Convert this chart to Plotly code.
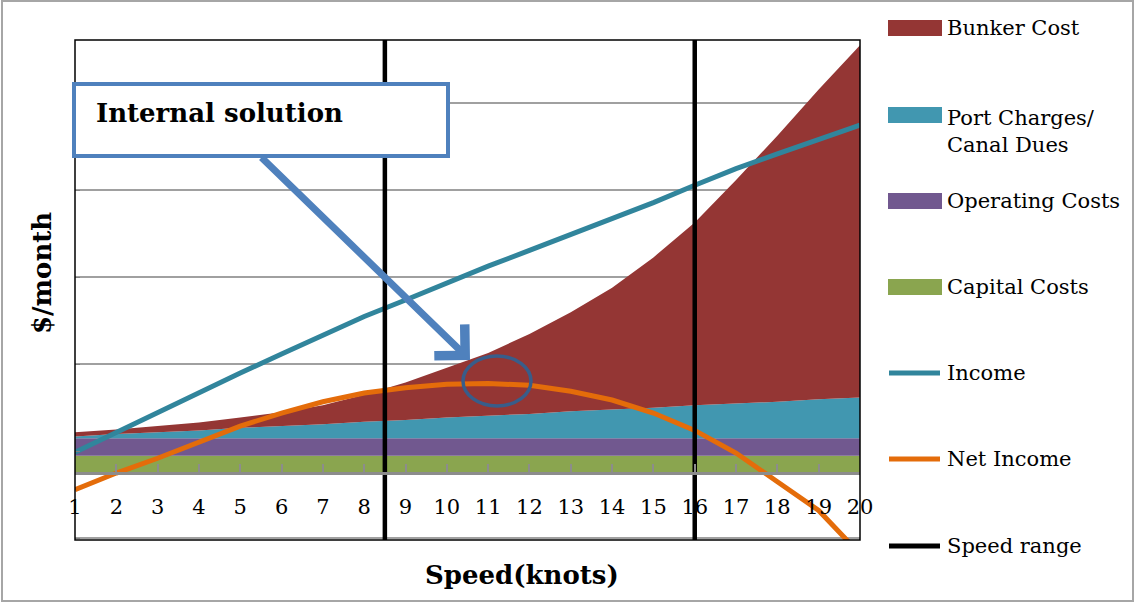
import plotly.graph_objects as go

# ---------------- data (arbitrary $/month units) ----------------
SPEEDS = [1, 2, 3, 4, 5, 6, 7, 8, 9, 10, 11, 12, 13, 14, 15, 16, 17, 18, 19, 20]
CAPITAL = [0.20, 0.20, 0.20, 0.20, 0.20, 0.20, 0.20, 0.20, 0.20, 0.20,
           0.20, 0.20, 0.20, 0.20, 0.20, 0.20, 0.20, 0.20, 0.20, 0.20]
OPERATING = [0.20, 0.20, 0.20, 0.20, 0.20, 0.20, 0.20, 0.20, 0.20, 0.20,
             0.20, 0.20, 0.20, 0.20, 0.20, 0.20, 0.20, 0.20, 0.20, 0.20]
PORT = [0.02, 0.05, 0.07, 0.09, 0.12, 0.14, 0.16, 0.19, 0.21, 0.24,
        0.26, 0.28, 0.31, 0.33, 0.35, 0.38, 0.40, 0.42, 0.45, 0.47]
BUNKER = [0.05, 0.05, 0.07, 0.09, 0.12, 0.16, 0.22, 0.31, 0.43, 0.57,
          0.72, 0.92, 1.14, 1.40, 1.73, 2.10, 2.57, 3.06, 3.56, 4.05]
INCOME = [0.24, 0.47, 0.70, 0.93, 1.15, 1.37, 1.58, 1.80, 1.99, 2.19,
          2.38, 2.56, 2.74, 2.92, 3.11, 3.31, 3.50, 3.67, 3.83, 4.00]
NET_INCOME = [-0.19, 0.00, 0.17, 0.36, 0.54, 0.69, 0.82, 0.92, 0.98, 1.02,
              1.03, 1.01, 0.94, 0.84, 0.69, 0.49, 0.23, -0.10, -0.43, -0.93]
SPEED_RANGE = [8.5, 16]
X_TICKS = [str(v) for v in SPEEDS]

NAMES = {
    "bunker": "Bunker Cost",
    "port": "Port Charges/<br>Canal Dues",
    "operating": "Operating Costs",
    "capital": "Capital Costs",
    "income": "Income",
    "net": "Net Income",
    "range": "Speed range",
}

COLORS = {
    "bunker": "#943634",
    "port": "#4197B0",
    "operating": "#71588F",
    "capital": "#8AA54F",
    "income": "#31859C",
    "net": "#E46C0A",
    "range": "#000000",
}

Y_MIN, Y_MAX = -0.77, 4.98
FONT = "DejaVu Serif"

# ---------------- layout helpers (pixel -> paper) ----------------
W, H = 1135, 603
L, R, T, B = 75, 860, 40, 540


def px2x(px):
    return (px - L) / (R - L)


def py2y(py):
    return (B - py) / (B - T)


fig = go.Figure()

# stacked cost areas
for key, vals in [("capital", CAPITAL), ("operating", OPERATING), ("port", PORT), ("bunker", BUNKER)]:
    fig.add_trace(go.Scatter(
        x=SPEEDS, y=vals, name=NAMES[key].replace("<br>", " "), stackgroup="costs",
        mode="lines", line=dict(width=0, color=COLORS[key]),
        fillcolor=COLORS[key], showlegend=False, hoverinfo="x+y+name",
    ))

fig.add_trace(go.Scatter(
    x=SPEEDS, y=INCOME, name=NAMES["income"], mode="lines",
    line=dict(color=COLORS["income"], width=5), showlegend=False,
))
fig.add_trace(go.Scatter(
    x=SPEEDS, y=NET_INCOME, name=NAMES["net"], mode="lines",
    line=dict(color=COLORS["net"], width=5), showlegend=False,
))

rx, ry = [], []
for s in SPEED_RANGE:
    rx += [s, s, None]
    ry += [Y_MIN, Y_MAX, None]
fig.add_trace(go.Scatter(
    x=rx, y=ry, name=NAMES["range"], mode="lines",
    line=dict(color=COLORS["range"], width=4.5), showlegend=False,
))

shapes = []
annotations = []

# plot frame
shapes.append(dict(type="rect", xref="paper", yref="paper", x0=0, y0=0, x1=1, y1=1,
                   line=dict(color="black", width=1.5), layer="above"))
# outer chart border
shapes.append(dict(type="rect", xref="paper", yref="paper",
                   x0=px2x(2), y0=py2y(601), x1=px2x(1133), y1=py2y(1),
                   line=dict(color="#A6A6A6", width=2), layer="above"))

# callout box
shapes.append(dict(type="rect", xref="paper", yref="paper",
                   x0=px2x(74), y0=py2y(156), x1=px2x(448), y1=py2y(84),
                   line=dict(color="#4F81BD", width=4), fillcolor="white", layer="above"))
annotations.append(dict(xref="paper", yref="paper", x=px2x(94), y=py2y(113),
                        xanchor="left", yanchor="middle", showarrow=False,
                        text="<b>Internal solution</b>",
                        font=dict(family=FONT, size=26, color="black")))
# arrow
annotations.append(dict(xref="paper", yref="paper", x=px2x(470), y=py2y(360),
                        ax=-210, ay=-204, text="", showarrow=True,
                        arrowhead=4, arrowsize=1.2, arrowwidth=7, arrowcolor="#4F81BD"))
# ellipse
shapes.append(dict(type="circle", xref="paper", yref="paper",
                   x0=px2x(463), y0=py2y(406), x1=px2x(531), y1=py2y(356),
                   line=dict(color="#385D8A", width=3.5), layer="above"))

# axis titles
annotations.append(dict(xref="paper", yref="paper", x=px2x(522), y=py2y(575),
                        xanchor="center", yanchor="middle", showarrow=False,
                        text="<b>Speed(knots)</b>",
                        font=dict(family=FONT, size=26, color="black")))
annotations.append(dict(xref="paper", yref="paper", x=px2x(42), y=py2y(273),
                        xanchor="center", yanchor="middle", showarrow=False, textangle=-90,
                        text="<b>$/month</b>",
                        font=dict(family=FONT, size=26, color="black")))

# manual legend
legend_items = [
    ("bunker", "box", 28, 28),
    ("port", "box", 115, 131),
    ("operating", "box", 201, 201),
    ("capital", "box", 287, 287),
    ("income", "line", 373, 373),
    ("net", "line", 459, 459),
    ("range", "line", 546, 546),
]
for key, kind, sym_y, text_y in legend_items:
    if kind == "box":
        shapes.append(dict(type="rect", xref="paper", yref="paper",
                           x0=px2x(888), x1=px2x(942), y0=py2y(sym_y + 8), y1=py2y(sym_y - 8),
                           line=dict(width=0), fillcolor=COLORS[key], layer="above"))
    else:
        shapes.append(dict(type="line", xref="paper", yref="paper",
                           x0=px2x(889), x1=px2x(940), y0=py2y(sym_y), y1=py2y(sym_y),
                           line=dict(color=COLORS[key], width=5), layer="above"))
    annotations.append(dict(xref="paper", yref="paper", x=px2x(945), y=py2y(text_y),
                            xanchor="left", yanchor="middle", showarrow=False, align="left",
                            text=NAMES[key],
                            font=dict(family=FONT, size=21, color="black")))

fig.update_layout(
    width=W, height=H,
    margin=dict(l=L, r=W - R, t=T, b=H - B, pad=0),
    paper_bgcolor="white", plot_bgcolor="white",
    showlegend=False,
    font=dict(family=FONT, color="black"),
    shapes=shapes, annotations=annotations,
    xaxis=dict(
        range=[1, 20], tickmode="array", tickvals=SPEEDS, ticktext=X_TICKS,
        anchor="free", position=(0 - Y_MIN) / (Y_MAX - Y_MIN),
        showline=True, linecolor="#8C8C8C", linewidth=2.5,
        ticks="inside", ticklen=8, tickwidth=2, tickcolor="#8C8C8C",
        ticklabelstandoff=14,
        showgrid=False, zeroline=False,
        tickfont=dict(family=FONT, size=21, color="black"),
        fixedrange=True,
    ),
    yaxis=dict(
        range=[Y_MIN, Y_MAX], tick0=0.25, dtick=1,
        showticklabels=False, showgrid=True, gridcolor="#A0A0A0", gridwidth=1.5,
        ticks="inside", ticklen=5, tickcolor="#808080",
        zeroline=False, showline=False, fixedrange=True,
    ),
)

fig.write_html(
    "out.html",
    config={"displayModeBar": False},
    post_script="document.body.style.margin='0';document.body.style.overflow='hidden';",
)
